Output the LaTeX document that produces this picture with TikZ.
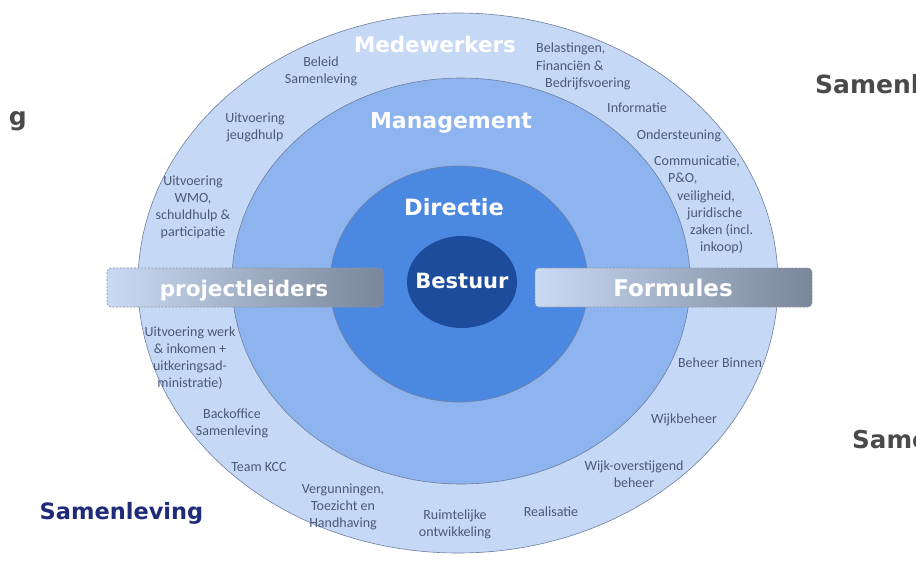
\documentclass[tikz,border=0pt]{standalone}
\usepackage{fontspec}
\setmainfont{Carlito}
\newfontfamily\bigf{DejaVu Sans}
\definecolor{outerc}{HTML}{C5D9F6}
\definecolor{mgmtc}{HTML}{8DB4EE}
\definecolor{dirc}{HTML}{4B88E2}
\definecolor{besc}{HTML}{1E4C9C}
\definecolor{ringline}{HTML}{6E7F9E}
\definecolor{smallc}{HTML}{4B5878}
\definecolor{navyc}{HTML}{1F2B78}
\definecolor{grayc}{HTML}{4A4A4A}
\definecolor{boxl}{HTML}{C9DAF3}
\definecolor{boxr}{HTML}{7A8699}
\definecolor{boxline}{HTML}{8A96AA}
\tikzset{
  ring/.style={draw=ringline, line width=0.6pt},
  lbl/.style={font=\fontsize{14}{17}\selectfont, text=smallc, align=center, inner sep=0pt},
  lbll/.style={font=\fontsize{14}{17.2}\selectfont, text=smallc, align=left, inner sep=0pt, anchor=west},
  big/.style={text=white, inner sep=0pt, anchor=base},
  bandbox/.style={draw=boxline, dashed, dash pattern=on 2pt off 1.5pt, rounded corners=4pt, left color=boxl, right color=boxr, line width=0.6pt},
  partial/.style={font=\bigf\bfseries\fontsize{25}{28}\selectfont, text=grayc, inner sep=0pt}
}
\begin{document}
\begin{tikzpicture}[x=1pt,y=-1pt]
\useasboundingbox (0,0) rectangle (916,563);
\clip (0,0) rectangle (916,563);
\fill[white] (0,0) rectangle (916,563);
% rings
\draw[ring, fill=outerc] (458,283) ellipse [x radius=320, y radius=270];
\draw[ring, fill=mgmtc] (461,281) ellipse [x radius=229, y radius=203];
\draw[ring, fill=dirc] (459,284) ellipse [x radius=129, y radius=118];
\fill[besc] (462,282) ellipse [x radius=55, y radius=46];
% bands
\draw[bandbox] (107,268) rectangle (383,307);
\draw[bandbox] (535,268) rectangle (812,307);
% big labels
\node[big, font=\bigf\bfseries\fontsize{21.4}{24}\selectfont] (medew) at (435,52) {Medewerkers};
\node[big, font=\bigf\bfseries\fontsize{22}{24}\selectfont] (mgmt) at (451,128) {Management};
\node[big, font=\bigf\bfseries\fontsize{22.5}{24}\selectfont] (dir) at (454,215) {Directie};
\node[big, font=\bigf\bfseries\fontsize{21}{24}\selectfont] (bes) at (462,288) {Bestuur};
\node[big, font=\bigf\bfseries\fontsize{21.5}{24}\selectfont] (proj) at (244,296) {projectleiders};
\node[big, font=\bigf\bfseries\fontsize{23}{24}\selectfont] (form) at (673,296) {Formules};
% small labels
\node[lbl] (beleid) at (321,71) {Beleid\\Samenleving};
\node[lbl] (jeugd) at (255,127) {Uitvoering\\jeugdhulp};
\node[lbl] (wmo) at (193,207) {Uitvoering\\WMO,\\schuldhulp \&\\participatie};
\node[lbll] (bel) at (536,66.5) {Belastingen,\\Financiën \&\\\hspace*{9pt}Bedrijfsvoering};
\node[lbl] (info) at (637,108) {Informatie};
\node[lbl] (onder) at (679,136) {Ondersteuning};
\node[lbll] (comm) at (654,205) {Communicatie,\\\hspace*{14pt}P\&O,\\\hspace*{23pt}veiligheid,\\\hspace*{33pt}juridische\\\hspace*{36pt}zaken (incl.\\\hspace*{46pt}inkoop)};
\node[lbl] (werk) at (190,358) {Uitvoering werk\\\& inkomen +\\uitkeringsad-\\ministratie)};
\node[lbl] (back) at (232,423) {Backoffice\\Samenleving};
\node[lbl] (kcc) at (259,467) {Team KCC};
\node[lbl] (verg) at (343,507) {Vergunningen,\\Toezicht en\\Handhaving};
\node[lbl] (ruimte) at (455,524) {Ruimtelijke\\ontwikkeling};
\node[lbl] (real) at (551,512) {Realisatie};
\node[lbl] (wijko) at (634,474) {Wijk-overstijgend\\beheer};
\node[lbl] (wijk) at (684,420) {Wijkbeheer};
\node[lbl] (binnen) at (720,363) {Beheer Binnen};
% outside labels
\node[font=\bigf\bfseries\fontsize{22.5}{26}\selectfont, text=navyc, inner sep=0pt, anchor=base] (samen) at (121.5,519) {Samenleving};
\node[partial, anchor=base east] (samg) at (27,125) {g};
\node[partial, anchor=base west] (samr1) at (815,93) {Samenle};
\node[partial, anchor=base west, font=\bigf\bfseries\fontsize{24.6}{28}\selectfont] (samr2) at (852,448) {Same};
\end{tikzpicture}
\end{document}
